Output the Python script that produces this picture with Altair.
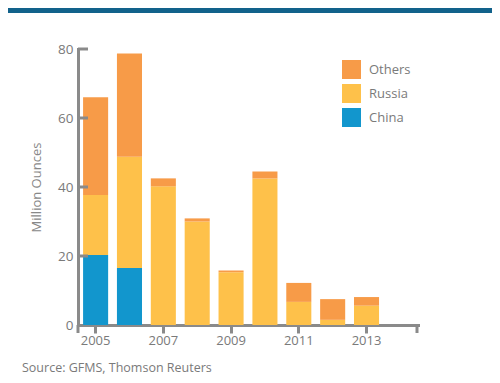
import altair as alt
import pandas as pd

years = ["2005", "2006", "2007", "2008", "2009", "2010", "2011", "2012", "2013"]
all_years = years + ["2014"]
china = [20.3, 16.5, 0, 0, 0, 0, 0, 0, 0]
russia = [17.4, 32.3, 40.2, 30.0, 15.3, 42.5, 6.7, 1.5, 5.6]
others = [28.3, 29.9, 2.3, 0.9, 0.5, 2.0, 5.5, 6.0, 2.5]
series = ["Others", "Russia", "China"]
colors = ["#F79B48", "#FEC14A", "#1296CD"]
x_tick_labels = ["2005", "2007", "2009", "2011", "2013"]
y_ticks = [20, 40, 60, 80]

rows = []
for i, y in enumerate(years):
    rows.append({"year": y, "series": "China", "value": china[i], "rank": 0})
    rows.append({"year": y, "series": "Russia", "value": russia[i], "rank": 1})
    rows.append({"year": y, "series": "Others", "value": others[i], "rank": 2})
df = pd.DataFrame(rows)

GRAY = "#8A8A8A"
TXT = "#7A7A7A"
FONT = "Open Sans"

yscale = alt.Scale(domain=[0, 80], nice=False, zero=True)

bars = alt.Chart(df).mark_bar().encode(
    x=alt.X("year:N", scale=alt.Scale(domain=all_years, paddingInner=0.26, paddingOuter=0.15),
            axis=alt.Axis(values=x_tick_labels, title=None, labelAngle=0, labelFontSize=13,
                          labelColor=TXT, labelFont=FONT, tickSize=8, tickWidth=3, tickColor=GRAY,
                          domainColor=GRAY, domainWidth=3, labelPadding=1)),
    y=alt.Y("value:Q", stack="zero", scale=yscale,
            axis=alt.Axis(values=[0, 20, 40, 60, 80], title="Million Ounces", tickSize=0,
                          labelFontSize=13.5, labelColor=TXT, labelFont=FONT, labelPadding=5,
                          titleFontSize=13, titleColor="#888888", titleFont=FONT, titleFontWeight="normal",
                          titlePadding=14, domainColor=GRAY, domainWidth=3, grid=False)),
    color=alt.Color("series:N", scale=alt.Scale(domain=series, range=colors),
                    legend=alt.Legend(title=None, orient="none", legendX=264, legendY=11,
                                      symbolType="square", symbolSize=361, symbolStrokeWidth=0,
                                      symbolOpacity=1, labelFontSize=13, labelColor=TXT, labelFont=FONT,
                                      labelOffset=8, rowPadding=5)),
    order=alt.Order("rank:Q"),
)

ticks_df = pd.DataFrame({"v": y_ticks})
yticks = alt.Chart(ticks_df).mark_rule(color=GRAY, strokeWidth=3).encode(
    y=alt.Y("v:Q", scale=yscale), x=alt.value(0), x2=alt.value(10)
)

caps_left = alt.Chart(ticks_df.head(1)).mark_rule(color=GRAY, strokeWidth=3).encode(
    x=alt.value(0), y=alt.value(276), y2=alt.value(284)
)
caps_right = alt.Chart(ticks_df.head(1)).mark_rule(color=GRAY, strokeWidth=3).encode(
    x=alt.value(339), y=alt.value(276), y2=alt.value(284)
)
topband = alt.Chart(ticks_df.head(1)).mark_rule(color="#12628B", strokeWidth=5).encode(
    x=alt.value(-70), x2=alt.value(414), y=alt.value(-38.5)
)
source = alt.Chart(pd.DataFrame({"t": ["Source: GFMS, Thomson Reuters"]})).mark_text(
    align="left", baseline="middle", fontSize=12.5, color=TXT, font=FONT
).encode(text="t:N", x=alt.value(-56), y=alt.value(319))

chart = alt.layer(bars, yticks, caps_left, caps_right, topband, source).properties(
    width=340, height=276,
    autosize=alt.AutoSizeParams(type="none"),
    padding={"left": 70, "top": 41, "right": 74, "bottom": 50},
).configure_view(stroke=None).configure_axis(domainCap="square")

chart.save("out.html", embed_options={"renderer": "svg", "actions": False})
